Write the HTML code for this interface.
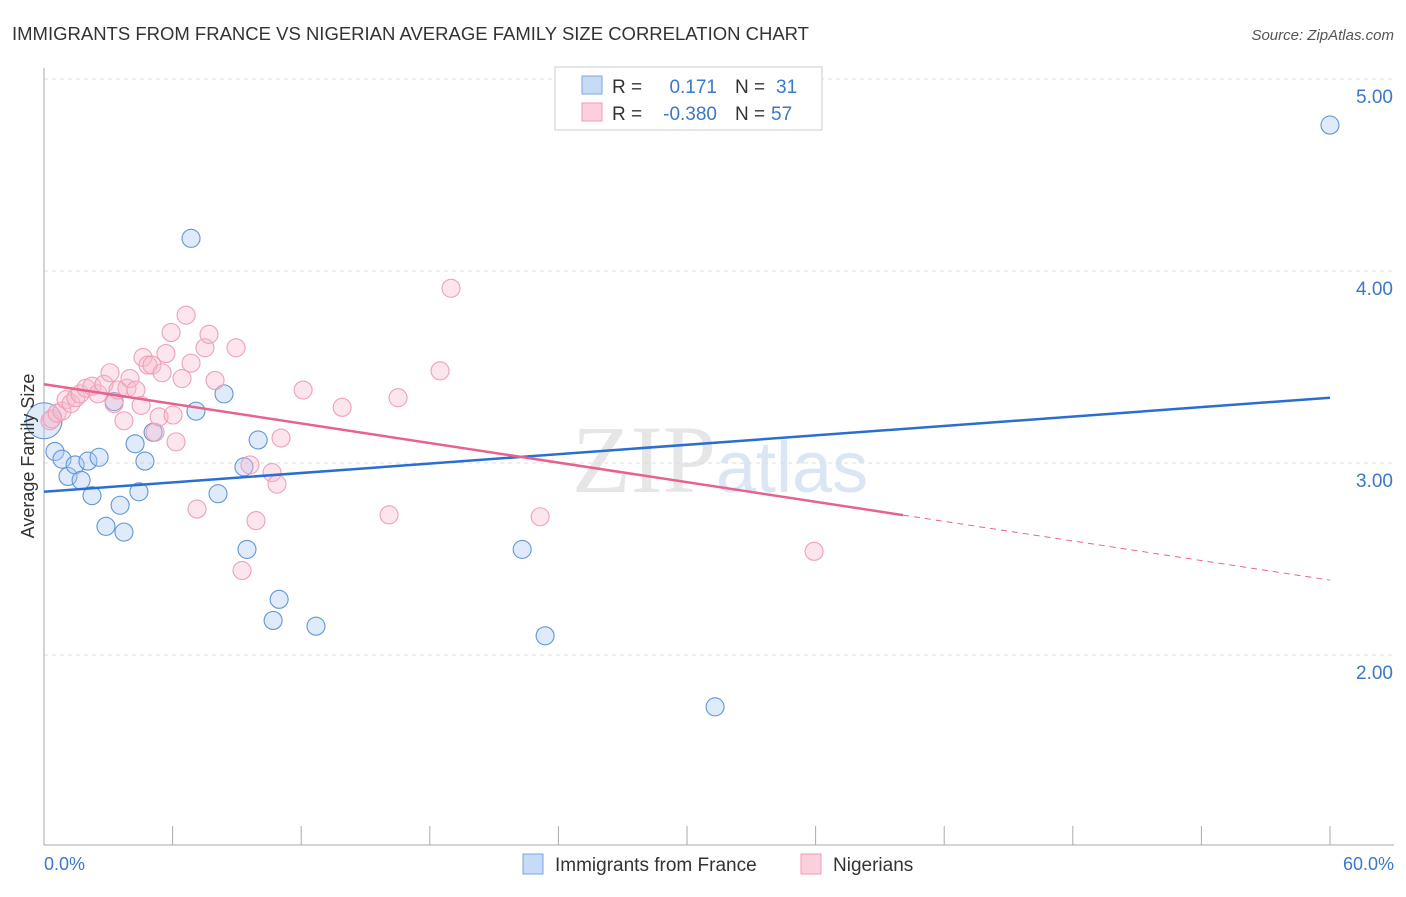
<!DOCTYPE html>
<html><head><meta charset="utf-8"><style>
body{margin:0;background:#fff;font-family:"Liberation Sans",sans-serif;}
</style></head><body>
<svg width="1406" height="892" xmlns="http://www.w3.org/2000/svg" font-family="Liberation Sans, sans-serif">
<text x="12" y="40" font-size="18.5" fill="#333">IMMIGRANTS FROM FRANCE VS NIGERIAN AVERAGE FAMILY SIZE CORRELATION CHART</text>
<text x="1394" y="40" font-size="15" fill="#555" font-style="italic" text-anchor="end">Source: ZipAtlas.com</text>
<text x="716" y="492" font-size="96" fill="#e6e6e6" text-anchor="end" font-family="Liberation Serif, serif">ZIP</text>
<text x="716" y="492" font-size="72" fill="#dbe6f4">atlas</text>
<g id="grid"></g><g id="axes"></g><g id="marks"></g><g id="trends"></g>
<text transform="translate(34,456) rotate(-90)" font-size="18" fill="#333" text-anchor="middle">Average Family Size</text>
<text x="44" y="870" font-size="18" fill="#3a78c9">0.0%</text>
<text x="1394" y="870" font-size="18" fill="#3a78c9" text-anchor="end">60.0%</text>
<g>
<rect x="555" y="67" width="267" height="63" fill="#fff" stroke="#ccc"/>
<rect x="582" y="76" width="20" height="18" fill="#c5dbf6" stroke="#7aa7e0"/>
<rect x="582" y="103" width="20" height="18" fill="#fbd0dc" stroke="#f09ab3"/>
<text x="612" y="93" font-size="19" fill="#333">R =</text><text x="717" y="93" font-size="19" fill="#3a78c9" text-anchor="end">0.171</text>
<text x="735" y="93" font-size="19" fill="#333">N =</text><text x="776" y="93" font-size="19" fill="#3a78c9">31</text>
<text x="612" y="120" font-size="19" fill="#333">R =</text><text x="717" y="120" font-size="19" fill="#3a78c9" text-anchor="end">-0.380</text>
<text x="735" y="120" font-size="19" fill="#333">N =</text><text x="771" y="120" font-size="19" fill="#3a78c9">57</text>
</g>
<g>
<rect x="523" y="854" width="20" height="20" fill="#c5dbf6" stroke="#7aa7e0"/>
<text x="555" y="871" font-size="19" fill="#333">Immigrants from France</text>
<rect x="801" y="854" width="20" height="20" fill="#fbd0dc" stroke="#f09ab3"/>
<text x="833" y="871" font-size="19" fill="#333">Nigerians</text>
</g>
</svg>
<script>
const yTicks=[2,3,4,5];
const yTickLabels=["2.00","3.00","4.00","5.00"];
const xTicks=[0,6,12,18,24,30,36,42,48,54,60];
const blueX=[0,0.51,0.84,1.12,1.45,1.73,2.05,2.24,2.57,2.89,3.27,3.55,3.73,4.25,4.43,4.71,5.09,6.86,7.09,8.12,8.40,9.33,9.47,9.99,10.69,10.97,12.69,22.31,23.38,31.31,60];
const blueY=[3.22,3.06,3.02,2.93,2.99,2.91,3.01,2.83,3.03,2.67,3.32,2.78,2.64,3.10,2.85,3.01,3.16,4.17,3.27,2.84,3.36,2.98,2.55,3.12,2.18,2.29,2.15,2.55,2.10,1.73,4.76];
const pinkX=[0.28,0.37,0.61,0.84,1.03,1.26,1.49,1.68,1.96,2.24,2.52,2.80,3.08,3.27,3.45,3.73,3.87,4.01,4.29,4.53,4.62,4.85,5.04,5.18,5.37,5.51,5.69,5.93,6.02,6.16,6.44,6.63,6.86,7.14,7.51,7.70,7.98,8.96,9.24,9.61,9.89,10.64,10.87,11.06,12.09,13.91,16.10,16.52,18.48,18.99,23.15,35.93];
const pinkY=[3.22,3.23,3.26,3.27,3.33,3.31,3.34,3.36,3.39,3.40,3.36,3.41,3.47,3.31,3.38,3.22,3.39,3.44,3.38,3.30,3.55,3.51,3.51,3.16,3.24,3.47,3.57,3.68,3.25,3.11,3.44,3.77,3.52,2.76,3.60,3.67,3.43,3.60,2.44,2.99,2.70,2.95,2.89,3.13,3.38,3.29,2.73,3.34,3.48,3.91,2.72,2.54];
const blueTrend=[2.85,3.34];
const pinkTrend=[3.41,2.39];
const pinkSolidEnd=40.08;
const X=v=>44+v*(1286/60);
const Y=v=>79+(5-v)*192;
const NS="http://www.w3.org/2000/svg";
function mk(t,a,p){const e=document.createElementNS(NS,t);for(const k in a)e.setAttribute(k,a[k]);p.appendChild(e);return e;}
const grid=document.getElementById('grid'),axes=document.getElementById('axes'),marks=document.getElementById('marks'),trends=document.getElementById('trends');
yTicks.forEach((t,i)=>{
 const l=mk('line',{x1:44,x2:1394,y1:Y(t),y2:Y(t),stroke:'#ddd','stroke-dasharray':'4,4'},grid);
 
 
 const tx=mk('text',{x:1393,y:Y(t)+24,'font-size':19,fill:'#3a78c9','text-anchor':'end'},grid);
 tx.textContent=yTickLabels[i];
 
 
});
const ya=mk('line',{x1:44,x2:44,y1:68,y2:845,stroke:'#aaa'},axes);


const xa=mk('line',{x1:44,x2:1394,y1:845,y2:845,stroke:'#aaa'},axes);


xTicks.forEach(t=>{
 const l=mk('line',{x1:X(t),x2:X(t),y1:826,y2:845,stroke:'#aaa'},axes);
 
 
});
blueX.forEach((v,i)=>{
 const c=mk('circle',{cx:X(v),cy:Y(blueY[i]),r:i===0?18:9,fill:'rgba(170,202,242,0.38)',stroke:'#6395db','stroke-width':1.1},marks);
 
 
});
pinkX.forEach((v,i)=>{
 const c=mk('circle',{cx:X(v),cy:Y(pinkY[i]),r:9,fill:'rgba(248,186,204,0.38)',stroke:'#efa0b8','stroke-width':1.1},marks);
 
 
});
const bt=mk('line',{x1:X(0),y1:Y(blueTrend[0]),x2:X(60),y2:Y(blueTrend[1]),stroke:'#2a6fd0','stroke-width':2.5},trends);


const pAt=x=>pinkTrend[0]+(pinkTrend[1]-pinkTrend[0])*x/60;
const pt=mk('line',{x1:X(0),y1:Y(pinkTrend[0]),x2:X(pinkSolidEnd),y2:Y(pAt(pinkSolidEnd)),stroke:'#e8628f','stroke-width':2.5},trends);


const pd=mk('line',{x1:X(pinkSolidEnd),y1:Y(pAt(pinkSolidEnd)),x2:X(60),y2:Y(pinkTrend[1]),stroke:'#e8628f','stroke-width':1,'stroke-dasharray':'6,5'},trends);


</script>
</body></html>
